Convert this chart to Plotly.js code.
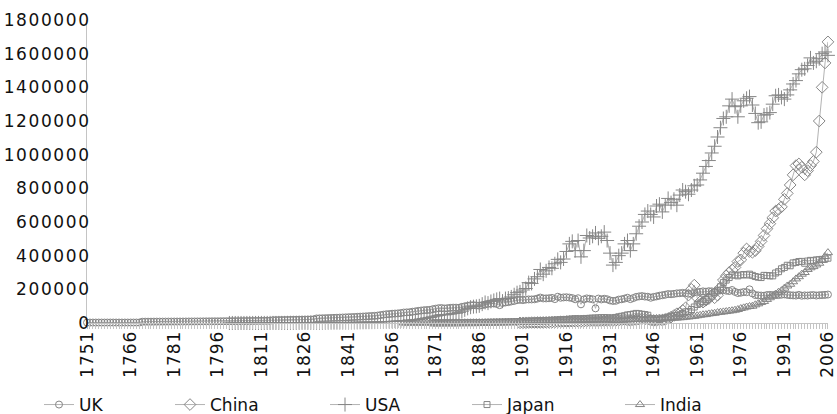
<!DOCTYPE html>
<html>
<head>
<meta charset="utf-8">
<script src="https://cdn.plot.ly/plotly-3.0.1.min.js"></script>
<style>
  html, body { margin: 0; padding: 0; background: #fff; }
  #chart { width: 837px; height: 414px; }
  .ytick text { letter-spacing: 1.6px; }
  .xtick text { letter-spacing: 0.9px; }
</style>
</head>
<body>
<div id="chart"></div>
<script>
// ---- data (thousand metric tons of carbon) ----
const seriesNames = ["UK", "China", "USA", "Japan", "India"];
const tickYears = [1751, 1766, 1781, 1796, 1811, 1826, 1841, 1856, 1871, 1886, 1901, 1916, 1931, 1946, 1961, 1976, 1991, 2006];
const yTicks = [0, 200000, 400000, 600000, 800000, 1000000, 1200000, 1400000, 1600000, 1800000];

const ukStart = 1751;
const ukValues = [
  2550, 2550, 2560, 2560, 2570, 2570, 2580, 2590, 2590, 2600,
  2610, 2620, 2640, 2650, 2670, 2690, 2700, 2720, 2740, 7600,
  7700, 7750, 7800, 7900, 8000, 8050, 8100, 8200, 8300, 8400,
  8500, 8550, 8650, 8700, 8800, 8900, 9000, 9100, 9200, 9350,
  9500, 9600, 9700, 9850, 10000, 10100, 10250, 10400, 10550, 10700,
  10900, 11000, 11200, 11400, 11600, 11700, 11900, 12100, 12300, 12500,
  12700, 12900, 13100, 13300, 16500, 16800, 17100, 17400, 17700, 18000,
  18300, 18700, 19000, 19400, 19800, 20200, 20600, 21000, 21500, 27000,
  27500, 28000, 28600, 29200, 29800, 30500, 31200, 31900, 32600, 33400,
  34200, 35000, 35800, 36700, 37600, 38500, 39500, 40500, 41500, 42500,
  44000, 47000, 49500, 52000, 53000, 55000, 56000, 57000, 59000, 62000,
  63000, 64000, 67000, 69000, 72000, 74000, 76000, 77000, 78000, 82000,
  85000, 88000, 89000, 86000, 88000, 90000, 91000, 91000, 90000, 96000,
  99000, 102000, 105000, 106000, 104000, 103000, 106000, 110000, 114000, 115000,
  117000, 113000, 106000, 119000, 122000, 124000, 128000, 131000, 136000, 138000,
  136000, 139000, 140000, 140000, 141000, 145000, 151000, 146000, 146000, 147000,
  149000, 142000, 156000, 150000, 152000, 153000, 151000, 148000, 141000, 147000,
  111000, 140000, 146000, 144000, 141000, 87000, 145000, 140000, 144000, 141000,
  134000, 131000, 132000, 139000, 141000, 145000, 150000, 142000, 148000, 155000,
  158000, 160000, 157000, 156000, 150000, 155000, 158000, 162000, 165000, 168000,
  172000, 171000, 173000, 176000, 177000, 179000, 177000, 174000, 173000, 182000,
  183000, 185000, 188000, 186000, 189000, 188000, 185000, 190000, 194000, 196000,
  192000, 190000, 196000, 185000, 178000, 180000, 184000, 183000, 200000, 176000,
  166000, 164000, 163000, 162000, 166000, 167000, 166000, 167000, 166000, 168000,
  170000, 167000, 165000, 164000, 163000, 167000, 162000, 164000, 163000, 165000,
  166000, 163000, 165000, 166000, 167000, 169000
];

const chinaStart = 1900;
const chinaValues = [
  800, 1000, 1200, 1500, 1800, 2200, 2600, 3000, 3500, 4000,
  4500, 5000, 5500, 6500, 7000, 7500, 8000, 8800, 9500, 10000,
  10500, 10000, 11000, 11500, 12000, 12500, 12000, 12000, 12500, 13000,
  14000, 14500, 15000, 16000, 17000, 18000, 19500, 17000, 16000, 17500,
  20000, 22000, 25000, 24000, 23000, 17000, 15000, 16000, 18000, 17000,
  21000, 27000, 35000, 45000, 55000, 60000, 75000, 90000, 166000, 200000,
  225000, 150000, 126000, 124000, 135000, 145000, 165000, 150000, 165000, 210000,
  255000, 280000, 300000, 315000, 330000, 365000, 375000, 415000, 440000, 425000,
  420000, 430000, 455000, 485000, 520000, 560000, 590000, 625000, 665000, 675000,
  690000, 735000, 770000, 820000, 880000, 935000, 945000, 925000, 880000, 905000,
  935000, 960000, 1015000, 1200000, 1400000, 1545000, 1670000
];

const usaStart = 1800;
const usaValues = [
  250, 270, 290, 300, 330, 350, 390, 410, 420, 480,
  500, 540, 580, 610, 650, 690, 730, 780, 830, 880,
  930, 980, 1030, 1100, 1170, 1240, 1320, 1400, 1490, 1580,
  1680, 1780, 1890, 2010, 2130, 2260, 2400, 2550, 2700, 2870,
  3040, 3230, 3420, 3630, 3850, 4080, 4320, 4580, 4850, 5140,
  5440, 6000, 6600, 7300, 8000, 8800, 9700, 10600, 11600, 12700,
  14000, 14500, 15500, 17500, 20000, 21000, 24000, 27000, 30000, 33000,
  37000, 41000, 45000, 50000, 48000, 51000, 53000, 57000, 58000, 63000,
  70000, 78000, 87000, 94000, 97000, 99000, 102000, 112000, 122000, 118000,
  128000, 134000, 140000, 145000, 130000, 145000, 148000, 155000, 168000, 180000,
  185000, 196000, 205000, 240000, 235000, 262000, 275000, 318000, 290000, 310000,
  330000, 325000, 352000, 378000, 360000, 380000, 425000, 470000, 485000, 430000,
  490000, 393000, 430000, 520000, 505000, 515000, 535000, 503000, 515000, 540000,
  490000, 415000, 344000, 360000, 400000, 415000, 470000, 490000, 430000, 470000,
  530000, 575000, 600000, 645000, 665000, 645000, 630000, 695000, 706000, 660000,
  700000, 740000, 715000, 735000, 700000, 760000, 790000, 780000, 765000, 790000,
  815000, 820000, 850000, 890000, 930000, 965000, 1010000, 1050000, 1105000, 1160000,
  1215000, 1225000, 1290000, 1330000, 1285000, 1225000, 1290000, 1320000, 1335000, 1345000,
  1295000, 1245000, 1190000, 1195000, 1235000, 1240000, 1250000, 1300000, 1350000, 1355000,
  1340000, 1330000, 1355000, 1385000, 1420000, 1440000, 1480000, 1505000, 1510000, 1530000,
  1575000, 1545000, 1555000, 1570000, 1600000, 1610000, 1590000
];

const japanStart = 1870;
const japanValues = [
  200, 300, 400, 500, 600, 700, 800, 900, 1000, 1200,
  1300, 1500, 1700, 1900, 2100, 2300, 2600, 2900, 3200, 3600,
  4000, 4300, 4700, 5100, 5500, 6000, 6400, 6900, 7400, 7900,
  8400, 9000, 9600, 10200, 10800, 11400, 12100, 12800, 13600, 14400,
  15200, 16000, 17000, 18000, 19000, 19500, 21000, 22500, 24000, 25500,
  25000, 24000, 26000, 27000, 28000, 29000, 29500, 30500, 31500, 32000,
  31000, 29500, 30000, 33000, 37000, 40000, 43000, 48000, 50000, 53000,
  57000, 55000, 52000, 50000, 46000, 25000, 12000, 15000, 20000, 26000,
  30000, 35000, 38000, 43000, 44000, 48000, 56000, 66000, 68000, 80000,
  95000, 110000, 118000, 128000, 140000, 150000, 160000, 180000, 195000, 215000,
  240000, 255000, 270000, 285000, 285000, 280000, 285000, 288000, 285000, 290000,
  283000, 276000, 272000, 270000, 283000, 282000, 280000, 280000, 297000, 305000,
  322000, 330000, 343000, 340000, 357000, 360000, 365000, 366000, 355000, 368000,
  372000, 370000, 375000, 376000, 378000, 380000, 385000
];

const indiaStart = 1860;
const indiaValues = [
  100, 150, 200, 250, 300, 350, 400, 450, 500, 550,
  600, 650, 700, 750, 800, 850, 900, 1000, 1100, 1200,
  1300, 1400, 1500, 1600, 1800, 2000, 2200, 2400, 2600, 2800,
  3000, 3200, 3400, 3600, 3900, 4200, 4500, 4800, 5100, 5500,
  5800, 6200, 6600, 7000, 7400, 7800, 8200, 8700, 9200, 9700,
  10200, 10800, 11400, 12000, 12600, 13000, 13500, 14000, 15000, 15500,
  15000, 14500, 15000, 15500, 16000, 16500, 17000, 17500, 18000, 18500,
  18000, 17000, 16500, 16500, 17000, 18000, 18500, 19500, 20000, 21000,
  22000, 23000, 23500, 24000, 24500, 25000, 24000, 23500, 24000, 25000,
  26000, 27000, 28000, 28500, 29500, 31000, 32000, 35000, 36000, 38000,
  40000, 43000, 46000, 49000, 50000, 54000, 56000, 58000, 62000, 64000,
  66000, 68000, 71000, 73000, 76000, 80000, 86000, 90000, 95000, 98000,
  100000, 108000, 114000, 122000, 128000, 140000, 150000, 160000, 172000, 183000,
  192000, 207000, 220000, 230000, 245000, 262000, 275000, 290000, 300000, 318000,
  328000, 335000, 345000, 355000, 372000, 395000, 418000
];

// ---- chart ----
function yearsFrom(start, n) {
  const out = [];
  for (let i = 0; i < n; i++) out.push(start + i);
  return out;
}

const starts = [ukStart, chinaStart, usaStart, japanStart, indiaStart];
const values = [ukValues, chinaValues, usaValues, japanValues, indiaValues];
const symbols = ["circle-open", "diamond-open", "cross-thin-open", "square-open", "triangle-up-open"];
const sizes = [7, 9, 10, 6, 8];
const legendIds = ["legend", "legend2", "legend3", "legend4", "legend5"];
const legendX = [39, 170, 325, 467, 620];

const FONT = "DejaVu Sans, Verdana, sans-serif";

const traces = seriesNames.map((name, k) => ({
  type: "scatter",
  mode: "lines+markers",
  name: name,
  x: yearsFrom(starts[k], values[k].length),
  y: values[k],
  line: { color: "#b3b3b3", width: 1 },
  marker: { symbol: symbols[k], size: sizes[k], color: "#868686", line: { width: 1 } },
  legend: legendIds[k],
  cliponaxis: false
}));

const layout = {
  width: 837,
  height: 414,
  margin: { l: 87, r: 9, t: 20, b: 91 },
  paper_bgcolor: "#ffffff",
  plot_bgcolor: "#ffffff",
  font: { family: FONT, size: 17, color: "#111111" },
  xaxis: {
    type: "linear",
    range: [1750.98, 2006.02],
    tickmode: "array",
    tickvals: tickYears,
    ticktext: tickYears.map(String),
    tickangle: -90,
    ticks: "outside",
    ticklen: 5,
    tickwidth: 1,
    tickcolor: "#c4c4c4",
    minor: { tick0: 1751, dtick: 1, ticks: "outside", ticklen: 5, tickwidth: 1, tickcolor: "#c4c4c4", showgrid: false },
    showline: true,
    linecolor: "#c4c4c4",
    linewidth: 1,
    showgrid: false,
    zeroline: false,
    ticklabelstandoff: -5,
    ticklabeloverflow: "allow",
    tickfont: { family: FONT, size: 17, color: "#111111" },
    fixedrange: true
  },
  yaxis: {
    range: [0, 1800000],
    tickmode: "array",
    tickvals: yTicks,
    ticktext: yTicks.map(String),
    ticks: "",
    showline: true,
    linecolor: "#c4c4c4",
    linewidth: 1,
    showgrid: false,
    zeroline: false,
    ticklabelstandoff: -8,
    ticklabeloverflow: "allow",
    tickfont: { family: FONT, size: 17, color: "#111111" },
    fixedrange: true
  },
  showlegend: true
};

legendIds.forEach((id, k) => {
  layout[id] = {
    orientation: "h",
    xref: "container",
    yref: "container",
    x: legendX[k] / 837,
    xanchor: "left",
    y: 9 / 414,
    yanchor: "middle",
    bgcolor: "rgba(0,0,0,0)",
    borderwidth: 0,
    font: { family: FONT, size: 17, color: "#111111" },
    itemclick: false,
    itemdoubleclick: false
  };
});

Plotly.newPlot("chart", traces, layout, { staticPlot: true, displayModeBar: false });
</script>
</body>
</html>
